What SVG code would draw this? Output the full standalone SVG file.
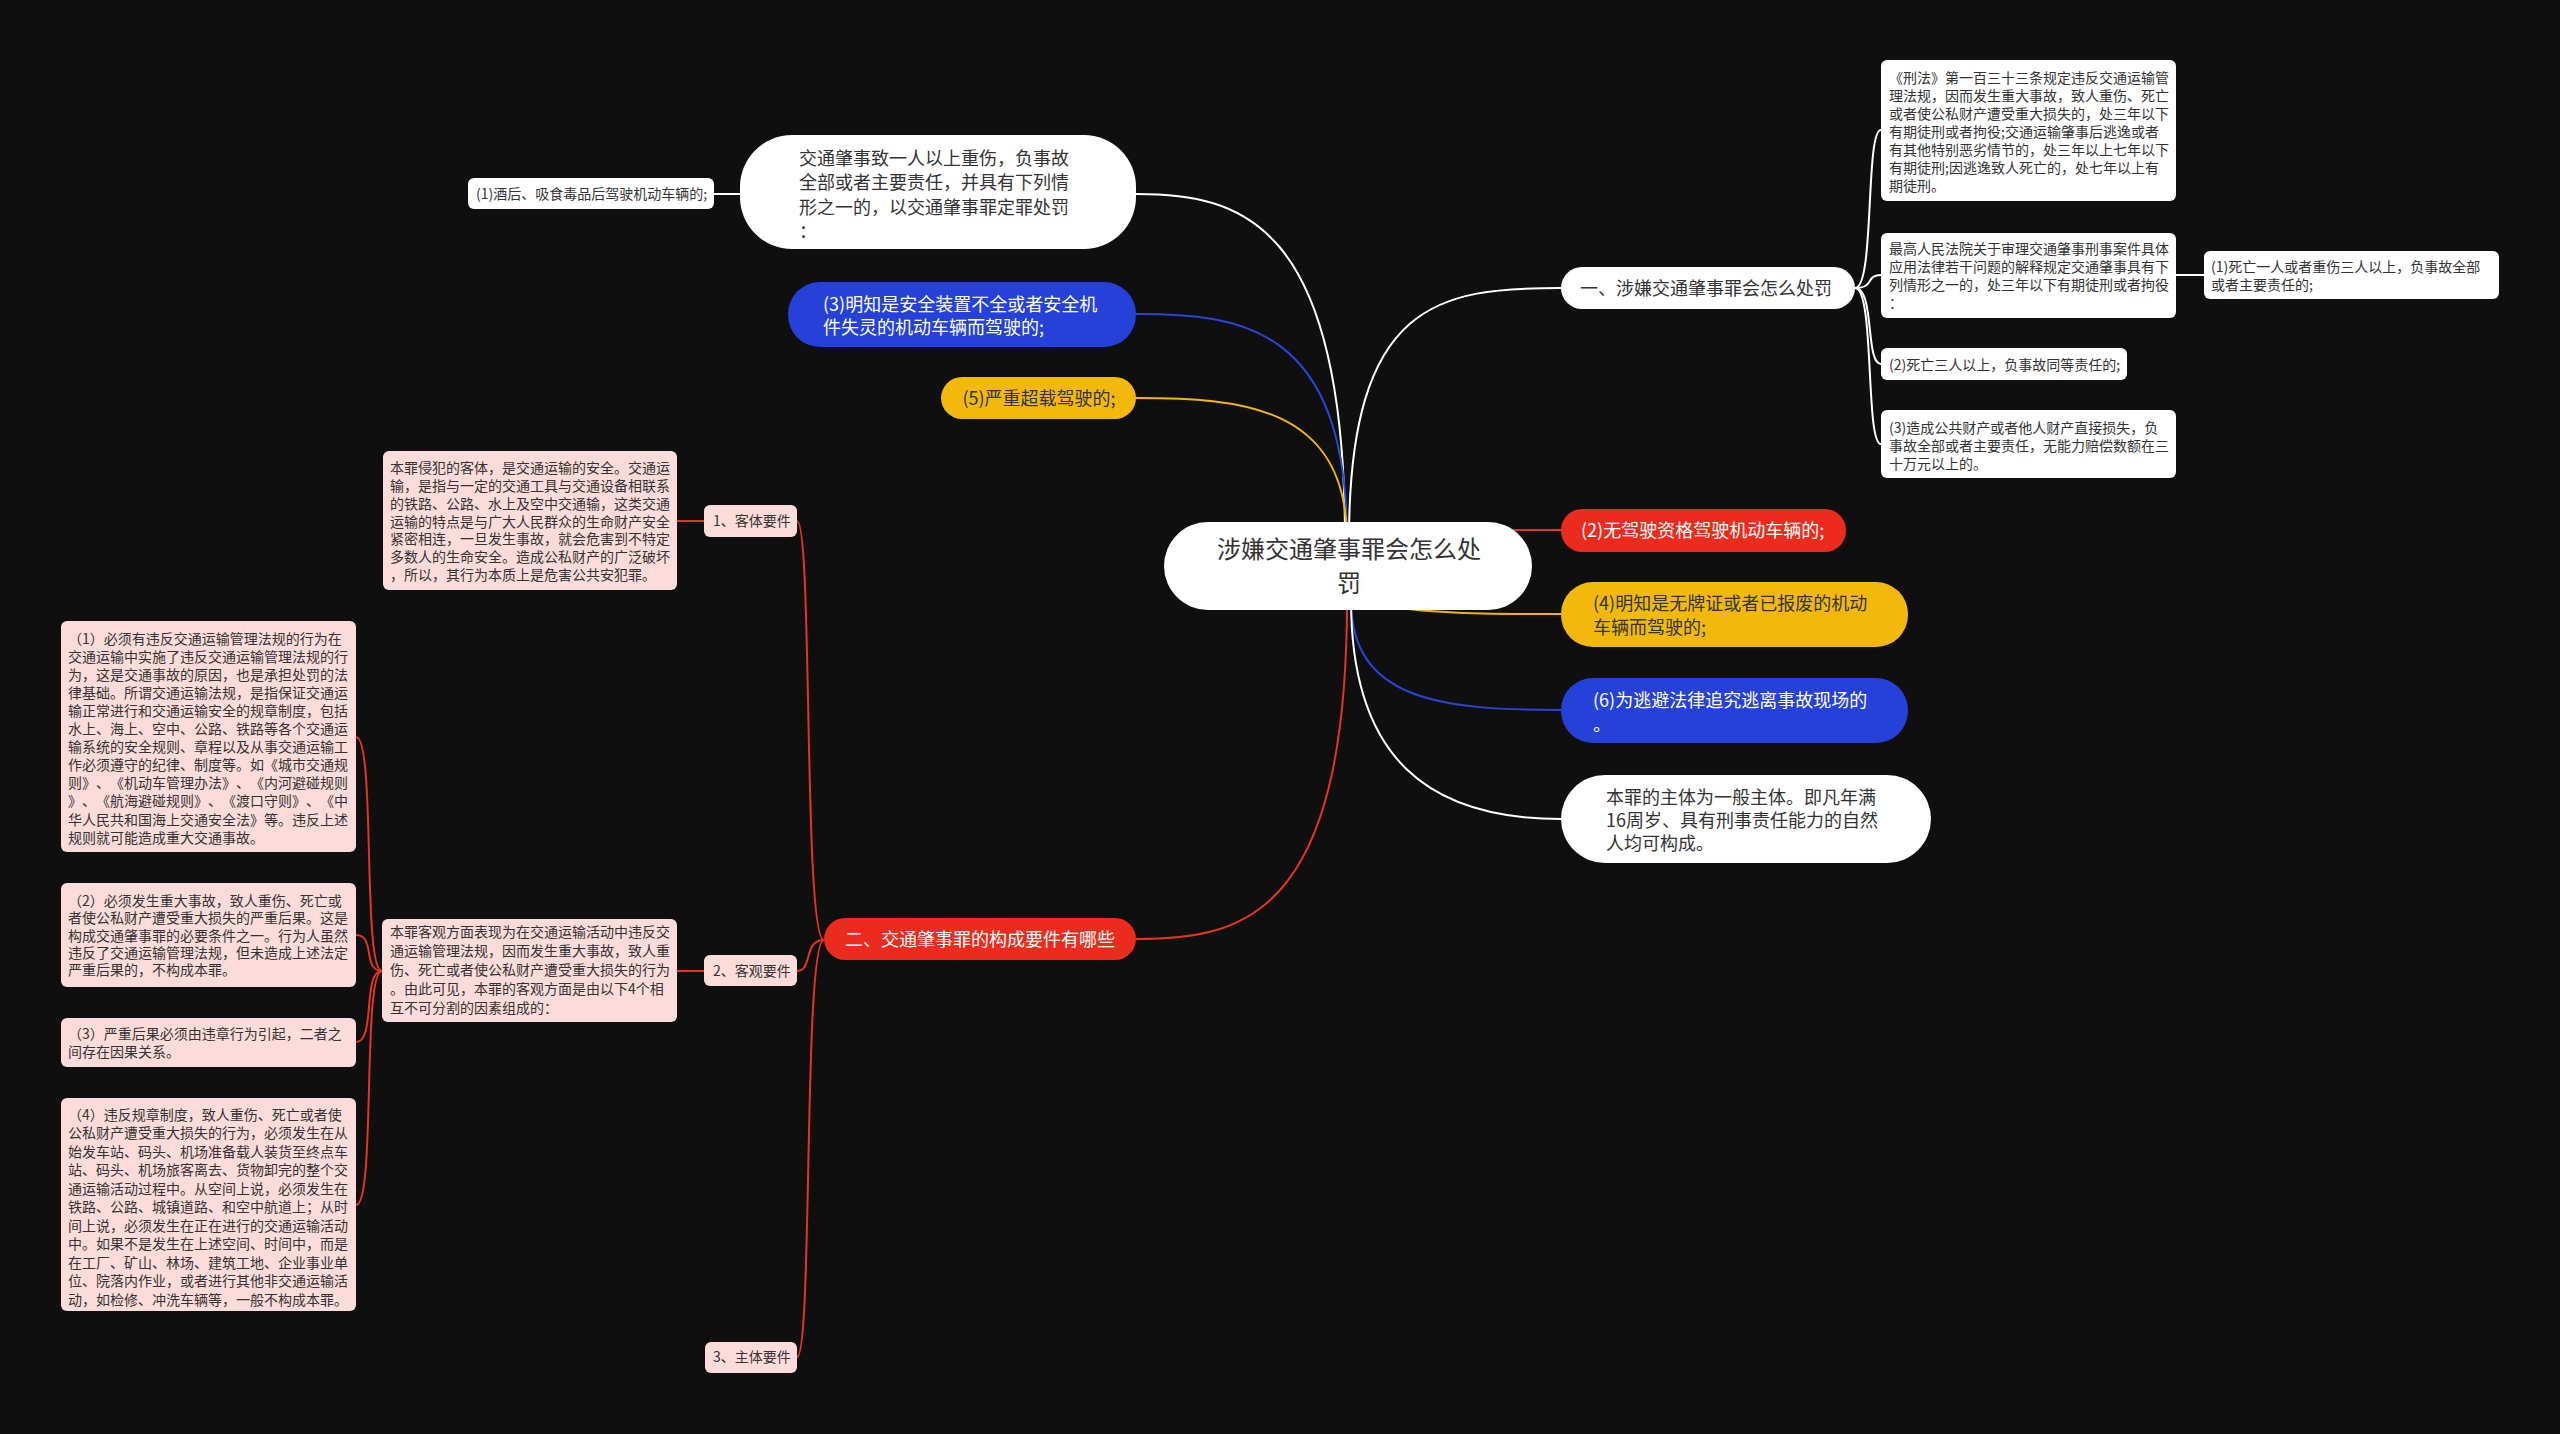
<svg xmlns="http://www.w3.org/2000/svg" width="2560" height="1434" viewBox="0 0 2560 1434">
<style>
.t{font-family:'Noto Sans CJK SC','Noto Sans CJK JP',sans-serif;text-spacing-trim:space-all}
.s14{font-size:14px}
.s18{font-size:18px}
.s24{font-size:24px}
.dk{fill:#333333}
.lt{fill:#ffffff}
.w{fill:#ffffff}
.bl{fill:#2541d8}
.yl{fill:#f2b90c}
.rd{fill:#ea2b1d}
.pk{fill:#fcdcda}
.c{fill:none;stroke-width:2}
.cw{stroke:#ffffff}
.cb{stroke:#2a46d9}
.cy{stroke:#f2b705}
.cr{stroke:#e3341f}
.m{text-anchor:middle}
</style>
<rect width="2560" height="1434" fill="#0f0f0f"/>
<g id="connectors">
<path class="c cw" d="M1345 540 C1345 220 1240 194 1136 194"/>
<path class="c cb" d="M1347 540 C1347 325 1240 314 1136 314"/>
<path class="c cy" d="M1347 540 C1347 405 1240 398 1136 398"/>
<path class="c cw" d="M1349 540 C1349 300 1440 288 1561 288"/>
<path class="c cr" d="M1349 565 C1349 530 1455 530 1561 530"/>
<path class="c cy" d="M1349 580 C1349 614 1455 614 1561 614"/>
<path class="c cb" d="M1351 600 C1351 700 1440 710 1561 710"/>
<path class="c cw" d="M1351 600 C1351 760 1430 819 1561 819"/>
<path class="c cr" d="M1347 600 C1347 920 1240 939 1136 939"/>
<path class="c cw" d="M714 194 L740 194"/>
<path class="c cw" d="M1855 288 C1875 288 1865 130 1881 130"/>
<path class="c cw" d="M1855 288 C1875 288 1865 275 1881 275"/>
<path class="c cw" d="M1855 288 C1875 288 1865 364 1881 364"/>
<path class="c cw" d="M1855 288 C1875 288 1865 444 1881 444"/>
<path class="c cw" d="M2176 275 L2204 275"/>
<path class="c cr" d="M824 940 C803 940 813 521 797 521"/>
<path class="c cr" d="M824 940 C803 940 813 971 797 971"/>
<path class="c cr" d="M824 940 C803 940 813 1357 797 1357"/>
<path class="c cr" d="M704 521 L677 521"/>
<path class="c cr" d="M704 971 L677 971"/>
<path class="c cr" d="M382 971 C362 971 376 737 356 737"/>
<path class="c cr" d="M382 971 C362 971 376 935 356 935"/>
<path class="c cr" d="M382 971 C362 971 376 1042 356 1042"/>
<path class="c cr" d="M382 971 C362 971 376 1205 356 1205"/>
</g>
<g id="root">
<rect class="w" x="1164" y="522" width="368" height="88" rx="44"/>
<text class="t s24 dk m"><tspan x="1349" y="558">涉嫌交通肇事罪会怎么处</tspan><tspan x="1349" y="592">罚</tspan></text>
</g>
<g id="n-top-white">
<rect class="w" x="740" y="135" width="396" height="114" rx="52"/>
<text class="t s18 dk"><tspan x="799" y="165">交通肇事致一人以上重伤，负事故</tspan><tspan x="799" y="189">全部或者主要责任，并具有下列情</tspan><tspan x="799" y="214">形之一的，以交通肇事罪定罪处罚</tspan><tspan x="799" y="238">：</tspan></text>
</g>
<g id="n-drunk">
<rect class="w" x="468" y="178" width="246" height="31" rx="6"/>
<text class="t s14 dk" x="476" y="199">(1)酒后、吸食毒品后驾驶机动车辆的;</text>
</g>
<g id="n-unsafe">
<rect class="bl" x="788" y="282" width="348" height="65" rx="32"/>
<text class="t s18 lt"><tspan x="823" y="311">(3)明知是安全装置不全或者安全机</tspan><tspan x="823" y="334">件失灵的机动车辆而驾驶的;</tspan></text>
</g>
<g id="n-overload">
<rect class="yl" x="941" y="377" width="195" height="42" rx="21"/>
<text class="t s18 dk m" x="1039" y="405">(5)严重超载驾驶的;</text>
</g>
<g id="n-punish">
<rect class="w" x="1561" y="267" width="294" height="42" rx="21"/>
<text class="t s18 dk" x="1580" y="295">一、涉嫌交通肇事罪会怎么处罚</text>
</g>
<g id="n-law">
<rect class="w" x="1881" y="60" width="295" height="141" rx="6"/>
<text class="t s14 dk"><tspan x="1889" y="83">《刑法》第一百三十三条规定违反交通运输管</tspan><tspan x="1889" y="101">理法规，因而发生重大事故，致人重伤、死亡</tspan><tspan x="1889" y="119">或者使公私财产遭受重大损失的，处三年以下</tspan><tspan x="1889" y="137">有期徒刑或者拘役;交通运输肇事后逃逸或者</tspan><tspan x="1889" y="155">有其他特别恶劣情节的，处三年以上七年以下</tspan><tspan x="1889" y="173">有期徒刑;因逃逸致人死亡的，处七年以上有</tspan><tspan x="1889" y="191">期徒刑。</tspan></text>
</g>
<g id="n-court">
<rect class="w" x="1881" y="233" width="295" height="85" rx="6"/>
<text class="t s14 dk"><tspan x="1889" y="254">最高人民法院关于审理交通肇事刑事案件具体</tspan><tspan x="1889" y="272">应用法律若干问题的解释规定交通肇事具有下</tspan><tspan x="1889" y="290">列情形之一的，处三年以下有期徒刑或者拘役</tspan><tspan x="1889" y="308">：</tspan></text>
</g>
<g id="n-death1">
<rect class="w" x="2204" y="251" width="295" height="48" rx="6"/>
<text class="t s14 dk"><tspan x="2211" y="272">(1)死亡一人或者重伤三人以上，负事故全部</tspan><tspan x="2211" y="290">或者主要责任的;</tspan></text>
</g>
<g id="n-death3">
<rect class="w" x="1881" y="348" width="246" height="32" rx="6"/>
<text class="t s14 dk" x="1889" y="370">(2)死亡三人以上，负事故同等责任的;</text>
</g>
<g id="n-property">
<rect class="w" x="1881" y="410" width="295" height="68" rx="6"/>
<text class="t s14 dk"><tspan x="1889" y="433">(3)造成公共财产或者他人财产直接损失，负</tspan><tspan x="1889" y="451">事故全部或者主要责任，无能力赔偿数额在三</tspan><tspan x="1889" y="469">十万元以上的。</tspan></text>
</g>
<g id="n-nolicense">
<rect class="rd" x="1561" y="509" width="285" height="43" rx="21"/>
<text class="t s18 lt" x="1581" y="537">(2)无驾驶资格驾驶机动车辆的;</text>
</g>
<g id="n-scrapped">
<rect class="yl" x="1561" y="582" width="347" height="65" rx="32"/>
<text class="t s18 dk"><tspan x="1593" y="610">(4)明知是无牌证或者已报废的机动</tspan><tspan x="1593" y="634">车辆而驾驶的;</tspan></text>
</g>
<g id="n-escape">
<rect class="bl" x="1561" y="678" width="347" height="65" rx="32"/>
<text class="t s18 lt"><tspan x="1593" y="707">(6)为逃避法律追究逃离事故现场的</tspan><tspan x="1593" y="731">。</tspan></text>
</g>
<g id="n-subject-main">
<rect class="w" x="1561" y="775" width="370" height="88" rx="44"/>
<text class="t s18 dk"><tspan x="1606" y="804">本罪的主体为一般主体。即凡年满</tspan><tspan x="1606" y="827">16周岁、具有刑事责任能力的自然</tspan><tspan x="1606" y="850">人均可构成。</tspan></text>
</g>
<g id="n-elements">
<rect class="rd" x="824" y="918" width="312" height="42" rx="21"/>
<text class="t s18 lt m" x="980" y="946">二、交通肇事罪的构成要件有哪些</text>
</g>
<g id="n-object">
<rect class="pk" x="704" y="505" width="93" height="32" rx="6"/>
<text class="t s14 dk" x="713" y="526">1、客体要件</text>
</g>
<g id="n-object-desc">
<rect class="pk" x="383" y="451" width="294" height="139" rx="6"/>
<text class="t s14 dk"><tspan x="390" y="473">本罪侵犯的客体，是交通运输的安全。交通运</tspan><tspan x="390" y="491">输，是指与一定的交通工具与交通设备相联系</tspan><tspan x="390" y="509">的铁路、公路、水上及空中交通输，这类交通</tspan><tspan x="390" y="527">运输的特点是与广大人民群众的生命财产安全</tspan><tspan x="390" y="544">紧密相连，一旦发生事故，就会危害到不特定</tspan><tspan x="390" y="562">多数人的生命安全。造成公私财产的广泛破坏</tspan><tspan x="390" y="580">，所以，其行为本质上是危害公共安犯罪。</tspan></text>
</g>
<g id="n-objective">
<rect class="pk" x="704" y="955" width="93" height="31" rx="6"/>
<text class="t s14 dk" x="713" y="976">2、客观要件</text>
</g>
<g id="n-objective-desc">
<rect class="pk" x="382" y="919" width="295" height="103" rx="6"/>
<text class="t s14 dk"><tspan x="390" y="937">本罪客观方面表现为在交通运输活动中违反交</tspan><tspan x="390" y="956">通运输管理法规，因而发生重大事故，致人重</tspan><tspan x="390" y="975">伤、死亡或者使公私财产遭受重大损失的行为</tspan><tspan x="390" y="994">。由此可见，本罪的客观方面是由以下4个相</tspan><tspan x="390" y="1013">互不可分割的因素组成的：</tspan></text>
</g>
<g id="n-obj1">
<rect class="pk" x="61" y="621" width="295" height="231" rx="6"/>
<text class="t s14 dk"><tspan x="68" y="644">（1）必须有违反交通运输管理法规的行为在</tspan><tspan x="68" y="662">交通运输中实施了违反交通运输管理法规的行</tspan><tspan x="68" y="680">为，这是交通事故的原因，也是承担处罚的法</tspan><tspan x="68" y="698">律基础。所谓交通运输法规，是指保证交通运</tspan><tspan x="68" y="716">输正常进行和交通运输安全的规章制度，包括</tspan><tspan x="68" y="734">水上、海上、空中、公路、铁路等各个交通运</tspan><tspan x="68" y="752">输系统的安全规则、章程以及从事交通运输工</tspan><tspan x="68" y="770">作必须遵守的纪律、制度等。如《城市交通规</tspan><tspan x="68" y="788">则》、《机动车管理办法》、《内河避碰规则</tspan><tspan x="68" y="806">》、《航海避碰规则》、《渡口守则》、《中</tspan><tspan x="68" y="825">华人民共和国海上交通安全法》等。违反上述</tspan><tspan x="68" y="843">规则就可能造成重大交通事故。</tspan></text>
</g>
<g id="n-obj2">
<rect class="pk" x="61" y="883" width="295" height="104" rx="6"/>
<text class="t s14 dk"><tspan x="68" y="906">（2）必须发生重大事故，致人重伤、死亡或</tspan><tspan x="68" y="923">者使公私财产遭受重大损失的严重后果。这是</tspan><tspan x="68" y="941">构成交通肇事罪的必要条件之一。行为人虽然</tspan><tspan x="68" y="958">违反了交通运输管理法规，但未造成上述法定</tspan><tspan x="68" y="975">严重后果的，不构成本罪。</tspan></text>
</g>
<g id="n-obj3">
<rect class="pk" x="61" y="1018" width="295" height="49" rx="6"/>
<text class="t s14 dk"><tspan x="68" y="1039">（3）严重后果必须由违章行为引起，二者之</tspan><tspan x="68" y="1057">间存在因果关系。</tspan></text>
</g>
<g id="n-obj4">
<rect class="pk" x="61" y="1098" width="295" height="213" rx="6"/>
<text class="t s14 dk"><tspan x="68" y="1120">（4）违反规章制度，致人重伤、死亡或者使</tspan><tspan x="68" y="1138">公私财产遭受重大损失的行为，必须发生在从</tspan><tspan x="68" y="1157">始发车站、码头、机场准备载人装货至终点车</tspan><tspan x="68" y="1175">站、码头、机场旅客离去、货物卸完的整个交</tspan><tspan x="68" y="1194">通运输活动过程中。从空间上说，必须发生在</tspan><tspan x="68" y="1212">铁路、公路、城镇道路、和空中航道上；从时</tspan><tspan x="68" y="1231">间上说，必须发生在正在进行的交通运输活动</tspan><tspan x="68" y="1249">中。如果不是发生在上述空间、时间中，而是</tspan><tspan x="68" y="1268">在工厂、矿山、林场、建筑工地、企业事业单</tspan><tspan x="68" y="1286">位、院落内作业，或者进行其他非交通运输活</tspan><tspan x="68" y="1305">动，如检修、冲洗车辆等，一般不构成本罪。</tspan></text>
</g>
<g id="n-subject">
<rect class="pk" x="705" y="1342" width="92" height="31" rx="6"/>
<text class="t s14 dk" x="713" y="1362">3、主体要件</text>
</g>
</svg>
